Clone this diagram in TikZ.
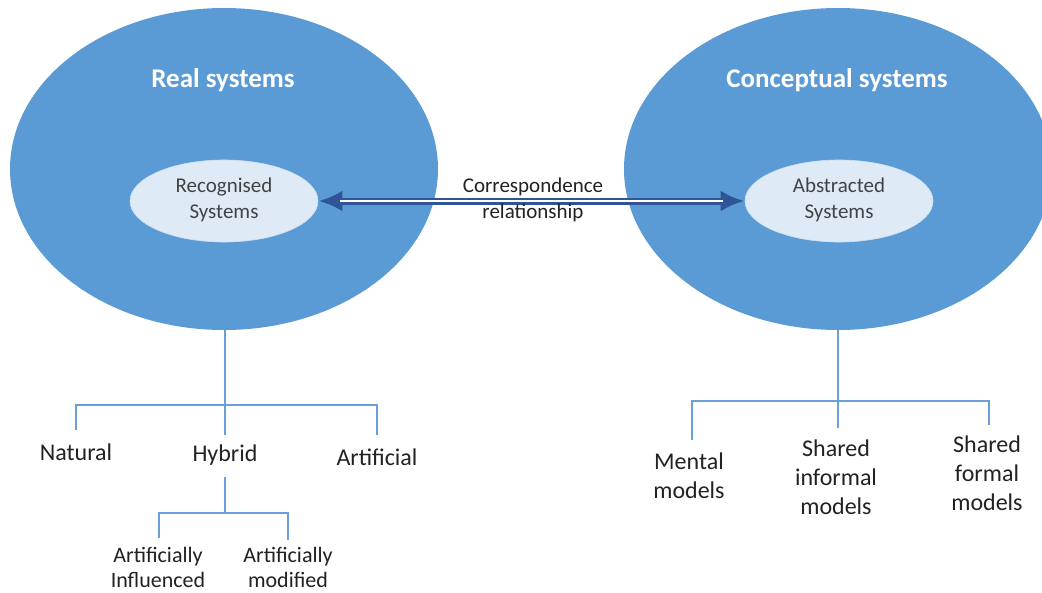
\documentclass[tikz,border=0pt]{standalone}
\usepackage{fontspec}
\setmainfont{Carlito}
\usetikzlibrary{shapes.geometric,arrows.meta}
\definecolor{bigblue}{HTML}{5B9BD5}
\definecolor{innerfill}{HTML}{DEEAF6}
\definecolor{arrowblue}{HTML}{2F5597}
\definecolor{linecol}{HTML}{6A9FD8}
\definecolor{txt}{HTML}{222222}
\begin{document}
\begin{tikzpicture}[x=1pt,y=-1pt,
  big/.style={ellipse, fill=bigblue, minimum width=428pt, minimum height=322pt, inner sep=0pt},
  innerell/.style={ellipse, fill=innerfill, draw=white!70!bigblue, line width=0.6pt, minimum width=188pt, minimum height=82pt, inner sep=0pt},
  titletxt/.style={text=white, font=\fontsize{27}{32}\selectfont\bfseries},
  innertxt/.style={align=center, text=txt!85, font=\fontsize{21}{26}\selectfont},
  lbl/.style={align=center, text=txt, inner sep=0pt, font=\fontsize{24}{29}\selectfont},
  sublbl/.style={align=center, text=txt, inner sep=0pt, font=\fontsize{22}{25}\selectfont},
  tree/.style={draw=linecol, line width=1.4pt},
  corrouter/.style={draw=arrowblue, line width=7pt,
    {Latex[length=24pt,width=21pt]}-{Latex[length=24pt,width=21pt]}},
  corrinner/.style={draw=white, line width=1.8pt, shorten <=22pt, shorten >=22pt}
]
\useasboundingbox (0,0) rectangle (1042,592);
\fill[white] (0,0) rectangle (1042,592);
% big ellipses
\node[big] (real) at (224,169) {};
\node[big] (conc) at (838,169) {};
\node[titletxt] (realt) at (223,80) {Real systems};
\node[titletxt] (conct) at (837,80) {Conceptual systems};
% inner ellipses
\node[innerell] (rec) at (224,201) {};
\node[innerell] (abs) at (839,201) {};
\node[innertxt] (rect) at (224,200) {Recognised\\Systems};
\node[innertxt] (abst) at (839,200) {Abstracted\\Systems};
% correspondence arrow
\draw[corrouter] (rec.east) -- (abs.west);
\draw[corrinner] (rec.east) -- (abs.west);
\node[align=center, text=txt, font=\fontsize{21}{26}\selectfont] (corrt) at (533,200) {Correspondence\\relationship};
% left tree
\node[lbl] (natural) at (76,452) {Natural};
\node[lbl] (hybrid) at (225,455) {Hybrid};
\node[lbl] (artificial) at (377,457) {Artificial};
\node[sublbl] (ainf) at (158,567) {Artificially\\Influenced};
\node[sublbl] (amod) at (288,567) {Artificially\\modified};
\coordinate (lj) at (225,405);
\coordinate (hj) at (225,513);
\draw[tree] (real.south -| lj) -- (lj) -- (225,435);
\draw[tree] (76,430) -- (76,405) -- (377,405) -- (377,435);
\draw[tree] (225,477) -- (hj);
\draw[tree] (159,538) -- (159,513) -- (288,513) -- (288,540);
% right tree
\node[lbl] (mental) at (689,476) {Mental\\models};
\node[lbl] (sinf) at (836,477) {Shared\\informal\\models};
\node[lbl] (sform) at (987,473) {Shared\\formal\\models};
\coordinate (rj) at (838,401);
\draw[tree] (conc.south -| rj) -- (rj) -- (838,428);
\draw[tree] (692,440) -- (692,401) -- (989,401) -- (989,425);
\end{tikzpicture}
\end{document}
